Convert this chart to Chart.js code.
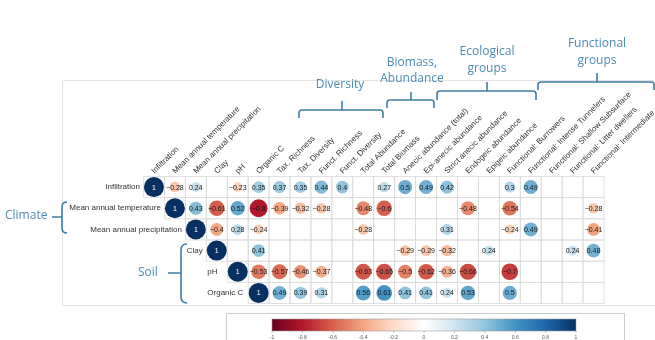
<!DOCTYPE html>
<html>
<head>
<meta charset="utf-8">
<script src="https://cdn.jsdelivr.net/npm/chart.js@4/dist/chart.umd.min.js"></script>
<style>
  html, body { margin: 0; padding: 0; background: #ffffff; }
  #wrap { position: relative; width: 655px; height: 340px; }
</style>
</head>
<body>
<div id="wrap"><canvas id="corr" width="655" height="340"></canvas></div>
<script>
// Variables along the columns of the correlation matrix
const variables = [
  'Infiltration', 'Mean annual temperature', 'Mean annual precipitation', 'Clay', 'pH', 'Organic C',
  'Tax. Richness', 'Tax. Diversity', 'Funct. Richness', 'Funct. Diversity',
  'Total Abundance', 'Total Biomass',
  'Anecic abundance (total)', 'Epi-anecic abundance', 'Strict anecic abundance', 'Endogeic abundance', 'Epigeic abundance',
  'Functional: Burrowers', 'Functional: Intense Tunnelers', 'Functional: Shallow Subsurface',
  'Functional: Litter dwellers', 'Functional: Intermediate'
];

// Variables along the rows (environmental drivers)
const rowLabels = ['Infiltration', 'Mean annual temperature', 'Mean annual precipitation', 'Clay', 'pH', 'Organic C'];

// Significant correlations per row (null = not shown)
const infiltrationR = [1, -0.28, 0.24, null, -0.23, 0.35, 0.37, 0.35, 0.44, 0.4, null, 0.27, 0.5, 0.49, 0.42, null, null, 0.3, 0.49, null, null, null];
const temperatureR  = [null, 1, 0.43, -0.61, 0.52, -0.8, -0.39, -0.32, -0.28, null, -0.48, -0.6, null, null, null, -0.48, null, -0.54, null, null, null, -0.28];
const precipR       = [null, null, 1, -0.4, 0.28, -0.24, null, null, null, null, -0.28, null, null, null, 0.31, null, null, -0.24, 0.49, null, null, -0.41];
const clayR         = [null, null, null, 1, null, 0.41, null, null, null, null, null, null, -0.29, -0.29, -0.32, null, 0.24, null, null, null, 0.24, 0.48];
const phR           = [null, null, null, null, 1, -0.53, -0.57, -0.46, -0.37, null, -0.63, -0.65, -0.5, -0.62, -0.36, -0.66, null, -0.7, null, null, null, null];
const organicCR     = [null, null, null, null, null, 1, 0.49, 0.39, 0.31, null, 0.56, 0.61, 0.41, 0.41, 0.24, 0.53, null, 0.5, null, null, null, null];

const matrixRows = [infiltrationR, temperatureR, precipR, clayR, phR, organicCR];

// Colour bar tick labels
const colorbarTicks = [-1, -0.8, -0.6, -0.4, -0.2, 0, 0.2, 0.4, 0.6, 0.8, 1];

// Group headings
const climateTitle = 'Climate';
const soilTitle = 'Soil';
const diversityTitle = ['Diversity'];
const biomassTitle = ['Biomass,', 'Abundance'];
const ecologicalTitle = ['Ecological', 'groups'];
const functionalTitle = ['Functional', 'groups'];

// RdBu diverging palette, -1 .. 1
const palette = ['#67001F', '#B2182B', '#D6604D', '#F4A582', '#FDDBC7', '#FFFFFF',
                 '#D1E5F0', '#92C5DE', '#4393C3', '#2166AC', '#053061'];

function hexToRgb(h) {
  return [parseInt(h.substr(1, 2), 16), parseInt(h.substr(3, 2), 16), parseInt(h.substr(5, 2), 16)];
}
function corrColor(v) {
  const t = (Math.max(-1, Math.min(1, v)) + 1) / 2 * (palette.length - 1);
  const i = Math.min(palette.length - 2, Math.floor(t));
  const f = t - i;
  const a = hexToRgb(palette[i]), b = hexToRgb(palette[i + 1]);
  const c = a.map((x, k) => Math.round(x + (b[k] - x) * f));
  return `rgb(${c[0]},${c[1]},${c[2]})`;
}
function fmt(v) {
  return (v < 0 ? '\u2212' : '') + String(Math.abs(v));
}

// Build bubble points from the rows
const points = [];
matrixRows.forEach((row, r) => {
  row.forEach((v, c) => {
    if (v !== null) points.push({ x: c, y: r, v: v });
  });
});

const BRACE = '#3d7fa3';
const HEAD = '#4a8cb3';
const HEAD_FONT = '12px "Open Sans", "Liberation Sans", sans-serif';
const LABEL_FONT = '8px "Liberation Sans", Arial, sans-serif';

function vBrace(ctx, x, y1, y2, ym, hook, tickTo) {
  ctx.beginPath();
  ctx.moveTo(x + hook, y1);
  ctx.quadraticCurveTo(x, y1, x, y1 + hook);
  ctx.lineTo(x, y2 - hook);
  ctx.quadraticCurveTo(x, y2, x + hook, y2);
  ctx.moveTo(x, ym);
  ctx.lineTo(tickTo, ym);
  ctx.stroke();
}
function hBrace(ctx, x1, x2, y, drop, xm, tickTo) {
  const r = 3;
  ctx.beginPath();
  ctx.moveTo(x1, y + drop);
  ctx.lineTo(x1, y + r);
  ctx.quadraticCurveTo(x1, y, x1 + r, y);
  ctx.lineTo(x2 - r, y);
  ctx.quadraticCurveTo(x2, y, x2, y + r);
  ctx.lineTo(x2, y + drop);
  ctx.moveTo(xm, y);
  ctx.lineTo(xm, tickTo);
  ctx.stroke();
}

// Grid, labels, headings, braces and colour bar
const decorPlugin = {
  id: 'decor',
  beforeDatasetsDraw(chart) {
    const ctx = chart.ctx;
    const xs = chart.scales.x, ys = chart.scales.y;
    ctx.save();

    // panel frame
    ctx.strokeStyle = '#e4e4e4';
    ctx.lineWidth = 1;
    ctx.beginPath();
    ctx.moveTo(655, 80.5); ctx.lineTo(62.5, 80.5); ctx.lineTo(62.5, 305.5); ctx.lineTo(655, 305.5);
    ctx.stroke();

    // upper-triangle grid
    ctx.strokeStyle = '#dadada';
    ctx.lineWidth = 0.8;
    matrixRows.forEach((row, r) => {
      for (let c = r; c < variables.length; c++) {
        const x0 = xs.getPixelForValue(c - 0.5), x1 = xs.getPixelForValue(c + 0.5);
        const y0 = ys.getPixelForValue(r - 0.5), y1 = ys.getPixelForValue(r + 0.5);
        ctx.strokeRect(x0, y0, x1 - x0, y1 - y0);
      }
    });

    // column labels (rotated)
    ctx.fillStyle = '#333333';
    ctx.font = LABEL_FONT;
    ctx.textAlign = 'left';
    ctx.textBaseline = 'middle';
    const topY = ys.getPixelForValue(-0.5);
    variables.forEach((lab, c) => {
      const x = xs.getPixelForValue(c);
      ctx.save();
      ctx.translate(x - 1, topY - 4);
      ctx.rotate(-Math.PI / 4);
      ctx.fillText(lab, 0, 0);
      ctx.restore();
    });

    // row labels
    rowLabels.forEach((lab, r) => {
      const y = ys.getPixelForValue(r);
      if (r >= 4) {
        ctx.textAlign = 'left';
        ctx.fillText(lab, xs.getPixelForValue(2.5) + 1, y);
      } else {
        ctx.textAlign = 'right';
        ctx.fillText(lab, xs.getPixelForValue(r) - 14, y);
      }
    });

    // group headings and braces
    ctx.strokeStyle = BRACE;
    ctx.lineWidth = 1.6;
    ctx.fillStyle = HEAD;
    ctx.font = HEAD_FONT;
    ctx.textAlign = 'center';
    ctx.textBaseline = 'middle';

    hBrace(ctx, 299, 383, 110, 8, 342, 101);
    diversityTitle.forEach((t, i) => ctx.fillText(t, 340, 85 + i * 16));
    hBrace(ctx, 387, 434, 100, 8, 411, 92);
    biomassTitle.forEach((t, i) => ctx.fillText(t, 412, 63 + i * 16));
    hBrace(ctx, 437, 536, 91, 9, 487, 82);
    ecologicalTitle.forEach((t, i) => ctx.fillText(t, 487, 52 + i * 17));
    hBrace(ctx, 538, 654, 82, 8, 597, 73);
    functionalTitle.forEach((t, i) => ctx.fillText(t, 597, 44 + i * 17));

    vBrace(ctx, 62, 202, 233, 217, 5, 52);
    ctx.textAlign = 'left';
    ctx.fillText(climateTitle, 5, 216);
    vBrace(ctx, 181, 244, 303, 273, 6, 168);
    ctx.fillText(soilTitle, 138, 273);

    // colour bar
    ctx.strokeStyle = '#cccccc';
    ctx.lineWidth = 1;
    ctx.strokeRect(226.5, 313.5, 398, 40);
    const bx0 = 272, bx1 = 576, by = 319, bh = 12;
    const grad = ctx.createLinearGradient(bx0, 0, bx1, 0);
    palette.forEach((col, i) => grad.addColorStop(i / (palette.length - 1), col));
    ctx.fillStyle = grad;
    ctx.fillRect(bx0, by, bx1 - bx0, bh);
    ctx.strokeStyle = '#9a9a9a';
    ctx.lineWidth = 0.6;
    ctx.strokeRect(bx0, by, bx1 - bx0, bh);
    ctx.fillStyle = '#555555';
    ctx.font = '5px "Liberation Sans", Arial, sans-serif';
    ctx.textAlign = 'center';
    ctx.textBaseline = 'top';
    colorbarTicks.forEach(t => {
      const x = bx0 + (t + 1) / 2 * (bx1 - bx0);
      ctx.beginPath();
      ctx.moveTo(x, by + bh); ctx.lineTo(x, by + bh + 2);
      ctx.stroke();
      ctx.fillText(String(t), x, by + bh + 4);
    });

    ctx.restore();
  },
  afterDatasetsDraw(chart) {
    const ctx = chart.ctx;
    const meta = chart.getDatasetMeta(0);
    ctx.save();
    ctx.font = '7px "Liberation Sans", Arial, sans-serif';
    ctx.textAlign = 'center';
    ctx.textBaseline = 'middle';
    meta.data.forEach((el, i) => {
      const v = points[i].v;
      ctx.fillStyle = Math.abs(v) >= 0.95 ? '#ffffff' : '#1a1a1a';
      ctx.fillText(fmt(v), el.x, el.y + 0.5);
    });
    ctx.restore();
  }
};

new Chart(document.getElementById('corr'), {
  type: 'bubble',
  data: {
    datasets: [{
      data: points,
      backgroundColor: ctx => corrColor(ctx.raw.v),
      borderWidth: 0,
      radius: ctx => 10 * Math.sqrt(Math.abs(ctx.raw.v)),
      hoverRadius: 0
    }]
  },
  options: {
    responsive: false,
    animation: false,
    devicePixelRatio: 1,
    events: [],
    layout: { padding: { left: 143.5, right: 51, top: 176.5, bottom: 36.5 } },
    scales: {
      x: { type: 'linear', min: -0.5, max: 21.5, display: false },
      y: { type: 'linear', min: -0.5, max: 5.5, reverse: true, display: false }
    },
    plugins: { legend: { display: false }, tooltip: { enabled: false } }
  },
  plugins: [decorPlugin]
});
</script>
</body>
</html>
